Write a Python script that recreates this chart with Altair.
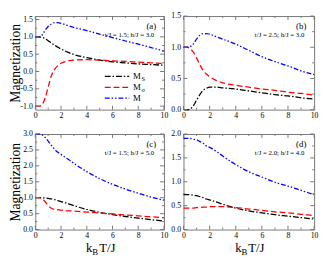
import altair as alt
import pandas as pd

FONT = "Liberation Serif"
FRAME = "#777777"

# temperature grid k_B T / J
T = [0, 0.3, 0.5, 0.75, 1.0, 1.25, 1.5, 1.75, 2.0, 2.5, 3, 4, 5, 6, 7, 8, 9, 10]

# panel (a) t/J=1.5, h/J=3.0
MS_a = [1.0, 1.0, 0.99, 0.95, 0.89, 0.82, 0.76, 0.70, 0.65, 0.56, 0.49, 0.40, 0.33, 0.28, 0.25, 0.22, 0.20, 0.18]
MSIG_a = [-1.0, -1.0, -0.97, -0.78, -0.45, -0.12, 0.06, 0.17, 0.24, 0.30, 0.33, 0.34, 0.33, 0.31, 0.29, 0.27, 0.25, 0.23]
M_a = [1.0, 1.0, 1.04, 1.18, 1.30, 1.37, 1.41, 1.41, 1.39, 1.33, 1.27, 1.18, 1.08, 0.98, 0.88, 0.79, 0.69, 0.59]

# panel (b) t/J=2.5, h/J=3.0
MS_b = [0.0, 0.0, 0.01, 0.06, 0.15, 0.24, 0.31, 0.34, 0.36, 0.36, 0.35, 0.33, 0.30, 0.27, 0.24, 0.22, 0.19, 0.17]
MSIG_b = [1.0, 1.0, 0.98, 0.92, 0.83, 0.72, 0.63, 0.57, 0.53, 0.47, 0.43, 0.39, 0.36, 0.33, 0.31, 0.28, 0.26, 0.23]
M_b = [1.0, 1.0, 1.01, 1.05, 1.13, 1.19, 1.22, 1.22, 1.21, 1.17, 1.13, 1.05, 0.95, 0.85, 0.77, 0.70, 0.62, 0.56]

# panel (c) t/J=1.5, h/J=5.0
MS_c = [1.0, 1.0, 1.0, 0.99, 0.98, 0.96, 0.94, 0.91, 0.88, 0.82, 0.75, 0.63, 0.54, 0.47, 0.41, 0.36, 0.31, 0.27]
MSIG_c = [1.0, 1.0, 0.98, 0.88, 0.75, 0.67, 0.63, 0.62, 0.61, 0.59, 0.58, 0.55, 0.52, 0.49, 0.46, 0.43, 0.40, 0.37]
M_c = [3.0, 3.0, 2.98, 2.90, 2.78, 2.64, 2.52, 2.43, 2.36, 2.22, 2.08, 1.82, 1.60, 1.42, 1.27, 1.14, 1.02, 0.92]

# panel (d) t/J=2.0, h/J=4.0
MS_d = [0.73, 0.73, 0.73, 0.72, 0.71, 0.69, 0.67, 0.64, 0.62, 0.58, 0.53, 0.45, 0.39, 0.35, 0.31, 0.28, 0.25, 0.22]
MSIG_d = [0.45, 0.45, 0.45, 0.45, 0.46, 0.46, 0.47, 0.47, 0.48, 0.48, 0.48, 0.46, 0.43, 0.40, 0.37, 0.35, 0.32, 0.29]
M_d = [1.91, 1.91, 1.91, 1.89, 1.88, 1.84, 1.81, 1.75, 1.72, 1.64, 1.54, 1.36, 1.21, 1.10, 0.99, 0.91, 0.82, 0.73]

SERIES = ["MS", "Msig", "M"]
COLORS = ["#000000", "#ff0000", "#0000ff"]
DASHES = [[6, 2, 1.5, 2], [6, 3], [5, 2, 1.5, 2, 1.5, 2]]

X_MAJOR = [0, 2, 4, 6, 8, 10]
X_MINOR = [1, 3, 5, 7, 9]

# legend (panel a)
LEG_Y = [-0.14, -0.46, -0.77]
LEG_X1 = 5.4
LEG_X2 = 7.3
LEG_TX = 7.6
LEG_SUB = ["S", "σ", ""]


def panel(ms, msig, m, ydom, ymaj, ymin, tag, params, W, H, ytitle, xtitle, legend):
    xs = alt.Scale(domain=[0, 10], nice=False, zero=False)
    ys = alt.Scale(domain=ydom, nice=False, zero=False)
    n = len(T)
    df = pd.DataFrame({"T": T * 3, "v": ms + msig + m,
                       "s": ["MS"] * n + ["Msig"] * n + ["M"] * n})
    xaxis = alt.Axis(values=X_MAJOR, ticks=False, domain=False, grid=False,
                     labelFlush=False, labelPadding=2, labelFont=FONT,
                     labelFontSize=8, labelColor="black", title=None)
    yargs = dict(values=ymaj, ticks=False, domain=False, grid=False,
                 labelPadding=3, labelFont=FONT, labelFontSize=8, labelColor="black",
                 labelExpr="(datum.value < 0 ? '-' : '') + format(abs(datum.value), '.1f')")
    if ytitle:
        yaxis = alt.Axis(title="Magnetization", titleFont=FONT, titleFontSize=14,
                         titleFontWeight="normal", titleColor="black",
                         titleX=-13, titleBaseline="bottom", **yargs)
    else:
        yaxis = alt.Axis(title=None, **yargs)

    def X(f):
        return alt.X(f, scale=xs, axis=xaxis)

    def Y(f):
        return alt.Y(f, scale=ys, axis=yaxis)

    color = alt.Color("s:N", scale=alt.Scale(domain=SERIES, range=COLORS), legend=None)
    dash = alt.StrokeDash("s:N", scale=alt.Scale(domain=SERIES, range=DASHES), legend=None)
    layers = [alt.Chart(df).mark_line(strokeWidth=1.3, interpolate="monotone").encode(
        x=X("T:Q"), y=Y("v:Q"), color=color, strokeDash=dash, detail="s:N")]

    def xt(vals, L):
        d = pd.DataFrame({"T": vals})
        return [alt.Chart(d).mark_rule(color=FRAME, strokeWidth=1).encode(
            x=X("T:Q"), y=alt.value(y0), y2=alt.value(y1))
            for y0, y1 in [(H, H - L), (0, L)]]

    def yt(vals, L):
        d = pd.DataFrame({"v": vals})
        return [alt.Chart(d).mark_rule(color=FRAME, strokeWidth=1).encode(
            y=Y("v:Q"), x=alt.value(x0), x2=alt.value(x1))
            for x0, x1 in [(0, L), (W, W - L)]]

    layers += xt(X_MAJOR, 4) + xt(X_MINOR, 2) + yt(ymaj, 4) + yt(ymin, 2)

    layers.append(alt.Chart(pd.DataFrame({"t": [tag]})).mark_text(
        font=FONT, fontSize=9, align="right", baseline="alphabetic", color="black").encode(
        text="t:N", x=alt.value(W - 8), y=alt.value(13)))
    layers.append(alt.Chart(pd.DataFrame({"t": [params]})).mark_text(
        font=FONT, fontSize=7, align="right", baseline="alphabetic", color="black").encode(
        text="t:N", x=alt.value(W - 10), y=alt.value(22)))

    if legend:
        ld = pd.DataFrame({"s": SERIES, "v": LEG_Y, "T": [LEG_X1] * 3, "x2": [LEG_X2] * 3})
        lt = pd.DataFrame({"v": LEG_Y, "T": [LEG_TX] * 3, "m": ["M"] * 3, "sub": LEG_SUB})
        layers.append(alt.Chart(ld).mark_rule(strokeWidth=1.3).encode(
            x=X("T:Q"), x2="x2:Q", y=Y("v:Q"), color=color, strokeDash=dash))
        layers.append(alt.Chart(lt).mark_text(font=FONT, fontSize=9, align="left",
                                              baseline="middle", color="black").encode(
            x=X("T:Q"), y=Y("v:Q"), text="m:N"))
        layers.append(alt.Chart(lt).mark_text(font=FONT, fontSize=6.5, align="left",
                                              baseline="middle", color="black", dx=8.5, dy=3).encode(
            x=X("T:Q"), y=Y("v:Q"), text="sub:N"))

    if xtitle:
        cx = W / 2 - 14
        base = H + 23
        for txt, dx, dy, fs in [("k", 0, 0, 13), ("B", 6.5, 3, 9), ("T/J", 13.5, 0, 13)]:
            layers.append(alt.Chart(pd.DataFrame({"t": [txt]})).mark_text(
                font=FONT, fontSize=fs, align="left", baseline="alphabetic", color="black").encode(
                text="t:N", x=alt.value(cx + dx), y=alt.value(base + dy)))

    return alt.layer(*layers).properties(width=W, height=H)


WL = 132
WR = 134
HT = 96
HB = 98
pa = panel(MS_a, MSIG_a, M_a, [-1.1, 1.6], [-1.0, -0.5, 0.0, 0.5, 1.0, 1.5],
           [-0.75, -0.25, 0.25, 0.75, 1.25], "(a)", "t/J = 1.5; h/J = 3.0", WL, HT, True, False, True)
pb = panel(MS_b, MSIG_b, M_b, [0, 1.5], [0.0, 0.5, 1.0, 1.5],
           [0.25, 0.75, 1.25], "(b)", "t/J = 2.5; h/J = 3.0", WR, HT, False, False, False)
pc = panel(MS_c, MSIG_c, M_c, [0, 3], [0.0, 0.5, 1.0, 1.5, 2.0, 2.5, 3.0],
           [0.25, 0.75, 1.25, 1.75, 2.25, 2.75], "(c)", "t/J = 1.5; h/J = 5.0", WL, HB, True, True, False)
pd_ = panel(MS_d, MSIG_d, M_d, [0, 2], [0.0, 0.5, 1.0, 1.5, 2.0],
            [0.25, 0.75, 1.25, 1.75], "(d)", "t/J = 2.0; h/J = 4.0", WR, HB, False, True, False)

chart = alt.concat(pa, pb, pc, pd_, columns=2, spacing={"row": 25, "column": 20},
                   bounds="flush").properties(
    padding=0
).configure(font=FONT).configure_view(stroke=FRAME, strokeWidth=1)

chart.save("out.html", embed_options={"renderer": "svg", "actions": False})
